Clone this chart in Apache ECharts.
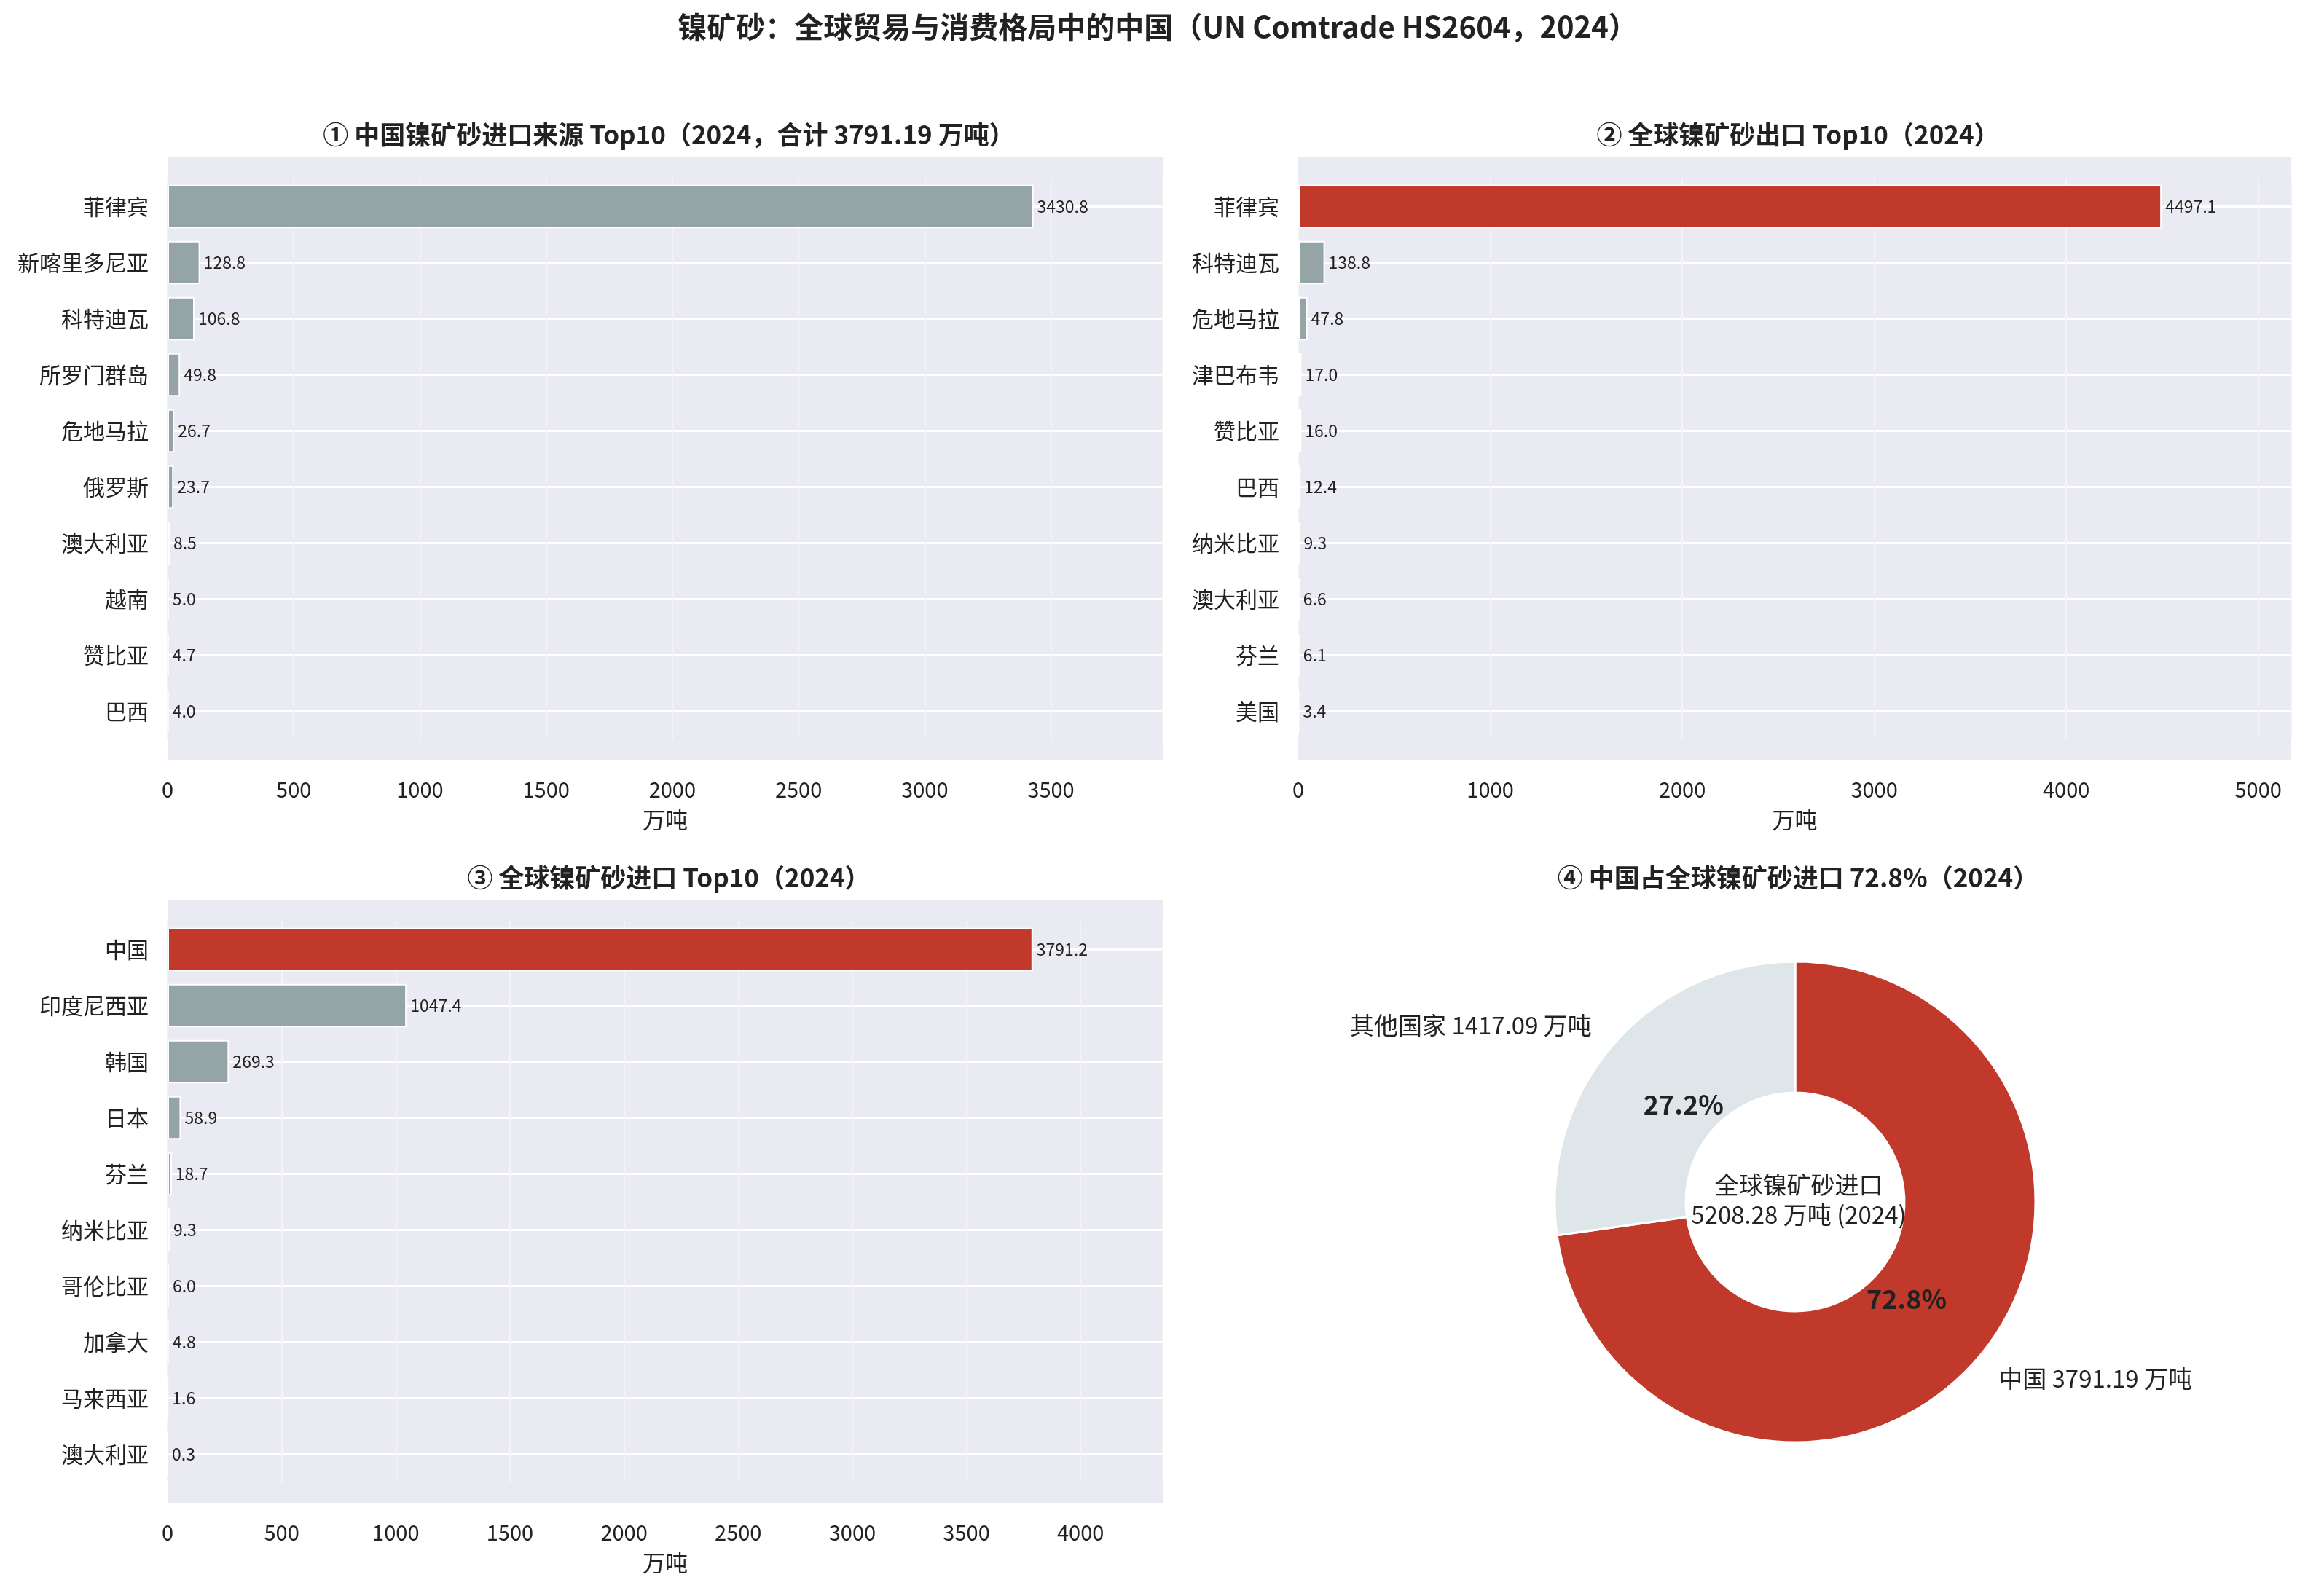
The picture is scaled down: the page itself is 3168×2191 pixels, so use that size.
<!DOCTYPE html>
<html><head><meta charset="utf-8">
<script src="https://cdn.jsdelivr.net/npm/echarts@6/dist/echarts.min.js"></script>
<style>html,body{margin:0;background:#fff}#c{width:3168px;height:2191px}</style>
</head><body><div id="c"></div>
<script>
const FONT = 'Noto Sans CJK SC';
const GREY = '#95A5A6', RED = '#C0392B', LIGHT = '#DFE6E9';

// ① 中国进口来源
const srcNames = ['菲律宾','新喀里多尼亚','科特迪瓦','所罗门群岛','危地马拉','俄罗斯','澳大利亚','越南','赞比亚','巴西'];
const srcValues = [3430.8,128.8,106.8,49.8,26.7,23.7,8.5,5.0,4.7,4.0];
// ② 全球出口
const expNames = ['菲律宾','科特迪瓦','危地马拉','津巴布韦','赞比亚','巴西','纳米比亚','澳大利亚','芬兰','美国'];
const expValues = [4497.1,138.8,47.8,17.0,16.0,12.4,9.3,6.6,6.1,3.4];
// ③ 全球进口
const impNames = ['中国','印度尼西亚','韩国','日本','芬兰','纳米比亚','哥伦比亚','加拿大','马来西亚','澳大利亚'];
const impValues = [3791.2,1047.4,269.3,58.9,18.7,9.3,6.0,4.8,1.6,0.3];
// ④ 中国占比
const pieNames = ['中国','其他国家'];
const pieValues = [3791.19,1417.09];

const chart = echarts.init(document.getElementById('c'));

// plot frames (background) and inner category bands
const frames = [
  {x:230, y:216, w:1366, h:828},
  {x:1782, y:216, w:1363, h:828},
  {x:230, y:1236, w:1366, h:828}
];
const PAD = 29;
const grids = frames.map(f => ({left:f.x, width:f.w, top:f.y + PAD, height:f.h - 2 * PAD}));

function xAxis(i, max, interval) {
  return {
    type:'value', gridIndex:i, min:0, max:max, interval:interval,
    name:'万吨', nameLocation:'middle', nameGap:PAD + 66,
    nameTextStyle:{fontFamily:FONT, fontSize:31, color:'#222'},
    axisLine:{show:false}, axisTick:{show:false},
    axisLabel:{fontFamily:FONT, fontSize:29, color:'#222', margin:PAD + 25, showMaxLabel:false,
      formatter: v => (v % interval === 0 ? String(v) : '')},
    splitLine:{lineStyle:{color:'#F4F4F8', width:2}}
  };
}
function yAxis(i, names) {
  return {
    type:'category', gridIndex:i, data:names, inverse:true,
    axisLine:{show:false}, axisTick:{show:false, alignWithLabel:true},
    axisLabel:{fontFamily:FONT, fontSize:30, color:'#222', margin:26},
    splitLine:{show:true, alignWithLabel:true, lineStyle:{color:'#fff', width:3}}
  };
}
function bars(i, values, highlightFirst) {
  return {
    type:'bar', xAxisIndex:i, yAxisIndex:i, barWidth:'77%', z:3,
    data: values.map((v, k) => ({value:v, itemStyle:{color: highlightFirst && k === 0 ? RED : GREY}})),
    itemStyle:{borderColor:'#fff', borderWidth:2},
    label:{show:true, position:'right', distance:5, fontFamily:FONT, fontSize:23, color:'#222',
      formatter: p => p.value.toFixed(1)}
  };
}
const subtitle = (text, left, top) => ({text, left, top, textAlign:'center',
  textStyle:{fontFamily:FONT, fontSize:35, fontWeight:'bold', color:'#222'}});

chart.setOption({
  backgroundColor:'#fff',
  graphic: frames.map(f => ({type:'rect', z:-10, silent:true,
    shape:{x:f.x, y:f.y, width:f.w, height:f.h}, style:{fill:'#EAEAF2'}})),
  title:[
    {text:'镍矿砂：全球贸易与消费格局中的中国（UN Comtrade HS2604，2024）', left:1584, top:12, textAlign:'center',
      textStyle:{fontFamily:FONT, fontSize:40, fontWeight:'bold', color:'#222'}},
    subtitle('① 中国镍矿砂进口来源 Top10（2024，合计 3791.19 万吨）', 913, 162),
    subtitle('② 全球镍矿砂出口 Top10（2024）', 2463, 162),
    subtitle('③ 全球镍矿砂进口 Top10（2024）', 913, 1182),
    subtitle('④ 中国占全球镍矿砂进口 72.8%（2024）', 2463, 1182),
    {text:'全球镍矿砂进口\n5208.28 万吨 (2024)', left:2464, top:1601, textAlign:'center',
      textStyle:{fontFamily:FONT, fontSize:33, fontWeight:'normal', color:'#222', lineHeight:41}}
  ],
  grid: grids,
  xAxis:[xAxis(0, 3943, 500), xAxis(1, 5172, 1000), xAxis(2, 4360, 500)],
  yAxis:[yAxis(0, srcNames), yAxis(1, expNames), yAxis(2, impNames)],
  series:[
    bars(0, srcValues, false),
    bars(1, expValues, true),
    bars(2, impValues, true),
    {
      type:'pie', center:[2464,1650], radius:[150,330], startAngle:90, clockwise:true,
      itemStyle:{borderColor:'#fff', borderWidth:3},
      data: pieNames.map((n, k) => ({name:n, value:pieValues[k], itemStyle:{color: k === 0 ? RED : LIGHT}})),
      label:{show:true, position:'outside', fontFamily:FONT, fontSize:33, color:'#222', distanceToLabelLine:0,
        formatter: p => p.name + ' ' + p.value.toFixed(2) + ' 万吨'},
      labelLine:{show:false, length:40, length2:0},
      emphasis:{disabled:true}
    },
    {
      type:'pie', center:[2464,1650], radius:[150,250], startAngle:90, clockwise:true, silent:true,
      itemStyle:{color:'transparent'},
      data: pieNames.map((n, k) => ({name:n, value:pieValues[k]})),
      label:{show:true, position:'inside', fontFamily:FONT, fontSize:36, fontWeight:'bold', color:'#222',
        formatter: p => p.percent.toFixed(1) + '%'},
      labelLine:{show:false}
    }
  ]
});
</script></body></html>
